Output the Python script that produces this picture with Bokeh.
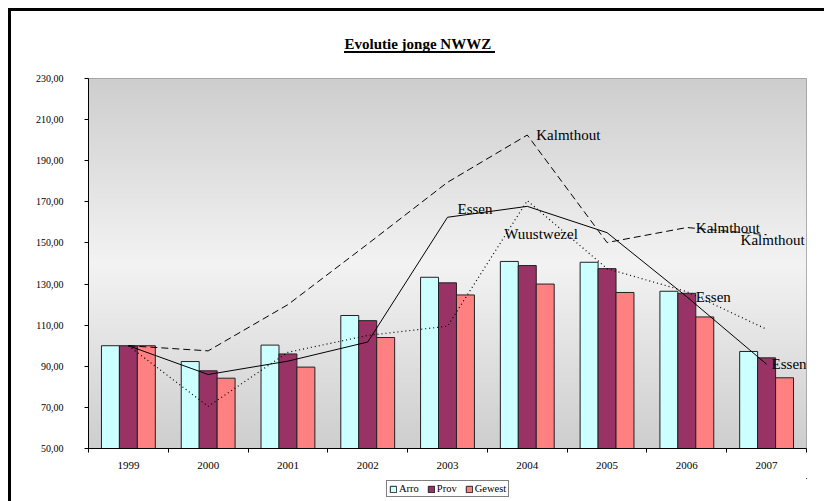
import numpy as np
from bokeh.plotting import figure
from bokeh.layouts import column
from bokeh.models import (Range1d, FixedTicker, ColumnDataSource, Legend, LegendItem,
                          LabelSet, InlineStyleSheet)
from bokeh.embed import file_html
from bokeh.resources import INLINE

# ---------------- data ----------------
years = ["1999", "2000", "2001", "2002", "2003", "2004", "2005", "2006", "2007"]
arro = [100.0, 92.3, 100.3, 114.7, 133.3, 141.0, 140.6, 126.5, 97.2]
prov = [100.0, 87.8, 96.0, 112.2, 130.6, 139.0, 137.5, 125.5, 94.1]
gewest = [100.0, 84.2, 89.6, 104.0, 124.7, 130.0, 125.9, 114.0, 84.4]
kalmthout = [100.0, 97.5, 120.0, 149.5, 179.5, 202.5, 150.2, 157.5, 154.0]
essen = [100.0, 86.0, 92.5, 101.8, 162.5, 167.8, 155.0, 123.8, 91.0]
wuustwezel = [100.0, 70.5, 96.8, 105.0, 109.5, 170.6, 137.5, 126.3, 108.0]
y_ticks = [50, 70, 90, 110, 130, 150, 170, 190, 210, 230]
y_tick_labels = ["50,00", "70,00", "90,00", "110,00", "130,00", "150,00",
                 "170,00", "190,00", "210,00", "230,00"]
label_series = ["Kalmthout", "Essen", "Wuustwezel", "Kalmthout", "Kalmthout", "Essen", "Essen"]
label_years = ["2004", "2003", "2004", "2006", "2007", "2006", "2007"]
legend_names = ["Arro", "Prov", "Gewest"]
bar_fields = ["arro", "prov", "gewest"]
bar_colors = ["#CCFFFF", "#993366", "#FF8080"]

# ---------------- layout ----------------
FONT = "Liberation Serif"
W, H_MAIN, H_LEG = 824, 478, 23
ML, MR, MT, MB = 88, 18, 78, 30

p = figure(width=W, height=H_MAIN, x_range=Range1d(0, 9), y_range=Range1d(50, 230),
           output_backend="svg", toolbar_location=None,
           min_border_left=ML, min_border_right=MR, min_border_top=MT, min_border_bottom=MB,
           border_fill_color="white", background_fill_color="white",
           outline_line_color="#999999", outline_line_width=1,
           title="Evolutie jonge NWWZ")
p.xgrid.visible = False
p.ygrid.visible = False

p.title.text_font = FONT
p.title.text_font_size = "15px"
p.title.text_font_style = "bold"
p.title.text_color = "black"
p.title.align = "left"
p.title.offset = 256
if "standoff" in p.title.properties():
    p.title.standoff = (p.title.standoff or 0) + 43

# title underline drawn with CSS
p.stylesheets = [InlineStyleSheet(css="""
:host::after { content: ""; position: absolute; left: 344px; top: 51px; width: 151px; height: 2px;
  background: black; pointer-events: none; z-index: 5; }
""")]

# gradient background of plot area
n = 200
t = (np.arange(n) + 0.5) / n
c = (206 + (243 - 206) * (1 - np.abs(2 * t - 1))).astype(np.uint8)
img = np.empty((n, 1), dtype=np.uint32)
view = img.view(dtype=np.uint8).reshape((n, 1, 4))
view[:, 0, 0] = c
view[:, 0, 1] = c
view[:, 0, 2] = c
view[:, 0, 3] = 255
p.image_rgba(image=[img], x=0, y=50, dw=9, dh=180)

centers = [i + 0.5 for i in range(len(years))]
bw = 0.225
src = ColumnDataSource(dict(xa=[cc - bw for cc in centers], xp=centers,
                            xg=[cc + bw for cc in centers],
                            arro=arro, prov=prov, gewest=gewest))
bar_x = ["xa", "xp", "xg"]
for xf, yf, col in zip(bar_x, bar_fields, bar_colors):
    p.vbar(x=xf, top=yf, bottom=50, width=bw, source=src,
           fill_color=col, line_color="#222222", line_width=1)

p.line(centers, kalmthout, line_color="black", line_width=1, line_dash="7 4")
p.line(centers, essen, line_color="black", line_width=1)
p.line(centers, wuustwezel, line_color="black", line_width=1.2, line_dash="1 3")

# series name labels
series_map = {"Kalmthout": kalmthout, "Essen": essen, "Wuustwezel": wuustwezel}
lx = [years.index(yr) + 0.5 for yr in label_years]
ly = [series_map[s][years.index(yr)] for s, yr in zip(label_series, label_years)]
off_x = [9, 10, -23, 9, -26, 9, 5]
off_down = [0, -8, 33, 0, 5, 0, 0]
lsrc = ColumnDataSource(dict(x=lx, y=ly, text=label_series, xo=off_x,
                             yo=[-d for d in off_down]))
labels = LabelSet(x="x", y="y", text="text", source=lsrc, x_offset="xo", y_offset="yo",
                  text_font=FONT, text_font_size="15px", text_color="black",
                  text_align="left", text_baseline="middle")
p.add_layout(labels)

# axes
xa = p.xaxis[0]
xa.ticker = FixedTicker(ticks=centers, minor_ticks=list(range(10)))
xa.major_label_overrides = {cc: yr for cc, yr in zip(centers, years)}
xa.major_tick_out = 0
xa.major_tick_in = 0
xa.minor_tick_out = 4
xa.minor_tick_in = 0
xa.minor_tick_line_color = "black"
xa.axis_line_color = "black"
xa.major_label_standoff = 9
xa.major_label_text_font = FONT
xa.major_label_text_font_size = "11px"
xa.major_label_text_color = "black"

ya = p.yaxis[0]
ya.ticker = FixedTicker(ticks=y_ticks, minor_ticks=[])
ya.major_label_overrides = {v: s for v, s in zip(y_ticks, y_tick_labels)}
ya.major_tick_out = 4
ya.major_tick_in = 0
ya.major_tick_line_color = "black"
ya.axis_line_color = "black"
ya.major_label_standoff = 21
ya.major_label_text_font = FONT
ya.major_label_text_font_size = "10px"
ya.major_label_text_color = "black"

# ---------------- legend strip below ----------------
# the strip's ranges lie far from the bar data, so its bars stay out of view;
# they only supply the legend swatches
pl = figure(width=W, height=H_LEG, x_range=Range1d(-20, -19), y_range=Range1d(-20, -19),
            output_backend="svg", toolbar_location=None,
            x_axis_location=None, y_axis_location=None,
            min_border=0, min_border_left=0, min_border_right=0,
            min_border_top=0, min_border_bottom=0,
            border_fill_color="white", background_fill_color="white",
            outline_line_color=None)
pl.title.visible = False
pl.xgrid.visible = False
pl.ygrid.visible = False
items = []
for name, xf, yf, col in zip(legend_names, bar_x, bar_fields, bar_colors):
    r = pl.vbar(x=xf, top=yf, bottom=50, width=bw, source=src,
                fill_color=col, line_color="#222222", line_width=1)
    items.append(LegendItem(label=name, renderers=[r]))
legend = Legend(items=items, orientation="horizontal", location=(298, 4),
                border_line_color="black", border_line_width=1,
                background_fill_color="white", background_fill_alpha=1,
                padding=2, spacing=8, margin=0,
                glyph_width=8, glyph_height=8, label_standoff=2,
                label_height=10, label_width=10,
                label_text_font=FONT, label_text_font_size="10.5px",
                label_text_color="black")
pl.add_layout(legend)

layout = column(p, pl, spacing=0)
# outer frame (top and left edges) over the whole page
layout.stylesheets = [InlineStyleSheet(css="""
:host::before { content: ""; position: absolute; left: 8px; top: 8px; width: 813px; height: 490px;
  border-top: 3px solid black; border-left: 3px solid black; pointer-events: none; z-index: 5; }
""")]
open("out.html", "w").write(file_html(layout, INLINE, "Evolutie jonge NWWZ"))
